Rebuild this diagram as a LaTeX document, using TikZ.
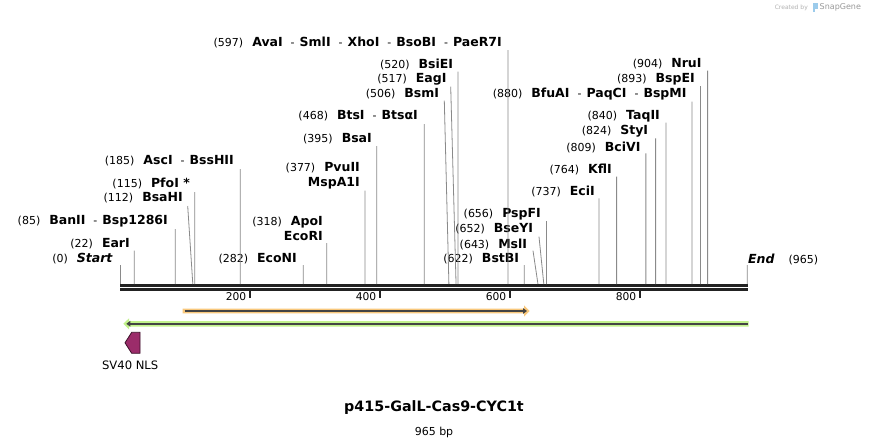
\documentclass[tikz,border=0pt]{standalone}
\usepackage{fontspec}
\setmainfont{DejaVu Sans}[ItalicFont={* Oblique}, BoldItalicFont={* Bold Oblique}]
\usepackage{tikz}
\usetikzlibrary{calc}
\usetikzlibrary{arrows.meta}

\definecolor{cutgray}{HTML}{8A8A8A}
\definecolor{bbdark}{HTML}{222222}
\definecolor{orafill}{HTML}{F9C87C}
\definecolor{grnfill}{HTML}{C2F28C}
\definecolor{featline}{HTML}{444444}
\definecolor{nlsfill}{HTML}{9B2C6A}
\definecolor{nlsdraw}{HTML}{3C1229}
\definecolor{sgblue}{HTML}{9CCBEB}

\newcommand{\bpos}[1]{{\fontsize{11}{15}\selectfont\mdseries(#1)}\hspace{9pt}}
\newcommand{\esep}{\hspace{8pt}{\fontsize{11}{15}\selectfont\mdseries -}\hspace{5pt}}

\begin{document}
\begin{tikzpicture} [
    x=1pt, y=-1pt,                 % pixel grid, y going down
    ]
% -------------------------------------------------
\tikzset{
  lab/.style={inner sep=0pt, anchor=east, align=right, font=\fontsize{12.5}{15}\selectfont\bfseries},
  cut/.style={draw=cutgray, line width=0.8pt},
  bbone/.style={draw=bbdark, line width=2.6pt},
  tickmark/.style={draw=bbdark, line width=1.6pt},
  ticklab/.style={inner sep=0pt, anchor=east, font=\fontsize{10.7}{12}\selectfont},
  featarrow/.style={draw=featline, line width=1.4pt, -{Triangle[length=4pt, width=5.5pt]}},
}
\useasboundingbox [fill=white] (0,0) rectangle (869,447);

    % backbone
    \coordinate (b0) at (120,285.3);
    \coordinate (b1) at (748,285.3);
    \coordinate (c0) at (120,289.5);
    \coordinate (c1) at (748,289.5);
    \path [bbone] (b0) -- (b1);
    \path [bbone] (c0) -- (c1);

    % sites on the backbone
    \foreach \p in {0,22,85,112,115,185,282,318,377,395,468,506,517,520,597,622,643,652,656,737,764,809,824,840,880,893,904,965}
      \coordinate (s\p) at (120+0.65*\p, 284);

    % ticks
    \foreach \t in {200,400,600,800} {
      \coordinate (k\t) at (120+0.65*\t, 290.7);
      \coordinate (m\t) at (120+0.65*\t, 297.5);
      \path [tickmark] (k\t) -- (m\t);
      \node [ticklab] (n\t) at (116.5+0.65*\t, 297) {\t};
    }

    % labels, left half
    \node [lab] (l0) at (113,259) {\bpos{0}\textit{Start}};
    \coordinate (t0) at (120,265);
    \node [lab] (l22) at (130,244) {\bpos{22}EarI};
    \coordinate (t22) at (134.3,250.7);
    \node [lab] (l85) at (168,221) {\bpos{85}BanII\esep Bsp1286I};
    \coordinate (t85) at (175.25,229);
    \node [lab] (l112) at (183,198) {\bpos{112}BsaHI};
    \coordinate (t112) at (187.7,206);
    \node [lab] (l115) at (190,183) {\bpos{115}PfoI *};
    \coordinate (t115) at (194.75,192);
    \node [lab] (l185) at (234,161) {\bpos{185}AscI\esep BssHII};
    \coordinate (t185) at (240.25,169);
    \node [lab] (l282) at (297,259) {\bpos{282}EcoNI};
    \coordinate (t282) at (303.3,265);
    \node [lab] (l318) at (323,228.5) {\bpos{318}ApoI\\EcoRI};
    \coordinate (t318) at (326.7,243);
    \node [lab] (l377) at (360,176) {\bpos{377}PvuII\\MspA1I};
    \coordinate (t377) at (365.05,190.7);
    \node [lab] (l395) at (372,139) {\bpos{395}BsaI};
    \coordinate (t395) at (376.75,146);
    \node [lab] (l468) at (418,116) {\bpos{468}BtsI\esep BtsαI};
    \coordinate (t468) at (424.2,124);
    \node [lab] (l506) at (439.3,94) {\bpos{506}BsmI};
    \coordinate (t506) at (444.3,100.7);
    \node [lab] (l517) at (446.7,79) {\bpos{517}EagI};
    \coordinate (t517) at (450.7,86.7);
    \node [lab] (l520) at (453.3,64) {\bpos{520}BsiEI};
    \coordinate (t520) at (458,71.7);
    \node [lab] (l597) at (502,42) {\bpos{597}AvaI\esep SmlI\esep XhoI\esep BsoBI\esep PaeR7I};
    \coordinate (t597) at (508.05,50);

    % labels, right half
    \node [lab] (l622) at (519.3,259) {\bpos{622}BstBI};
    \coordinate (t622) at (524.3,265);
    \node [lab] (l643) at (527.3,244) {\bpos{643}MslI};
    \coordinate (t643) at (533,250.7);
    \node [lab] (l652) at (533.3,229) {\bpos{652}BseYI};
    \coordinate (t652) at (539,236.7);
    \node [lab] (l656) at (541,214) {\bpos{656}PspFI};
    \coordinate (t656) at (546.4,221);
    \node [lab] (l737) at (595,191) {\bpos{737}EciI};
    \coordinate (t737) at (599.05,198.3);
    \node [lab] (l764) at (612,169) {\bpos{764}KflI};
    \coordinate (t764) at (616.6,176.7);
    \node [lab] (l809) at (640.7,147) {\bpos{809}BciVI};
    \coordinate (t809) at (645.85,153.3);
    \node [lab] (l824) at (648.3,131) {\bpos{824}StyI};
    \coordinate (t824) at (655.6,138.3);
    \node [lab] (l840) at (660,116) {\bpos{840}TaqII};
    \coordinate (t840) at (666,122.7);
    \node [lab] (l880) at (686.7,94) {\bpos{880}BfuAI\esep PaqCI\esep BspMI};
    \coordinate (t880) at (692,101.7);
    \node [lab] (l893) at (695,79) {\bpos{893}BspEI};
    \coordinate (t893) at (700.45,86);
    \node [lab] (l904) at (701.7,64) {\bpos{904}NruI};
    \coordinate (t904) at (707.6,70.7);
    \node [lab, anchor=west] (l965) at (748,259) {\textit{End}\hspace{14pt}{\fontsize{11}{15}\selectfont\mdseries(965)}};
    \coordinate (t965) at (747.25,265);

    % cut lines
    \foreach \p in {0,22,85,112,115,185,282,318,377,395,468,506,517,520,597,622,643,652,656,737,764,809,824,840,880,893,904,965}
      \path [cut] (t\p) -- (s\p);

    % features
    \fill [orafill] (182.7,308.7) -- (524,308.7) -- (524,305.3) -- (529.5,311) -- (524,316.7) -- (524,313.3) -- (182.7,313.3) -- cycle;
    \coordinate (o0) at (184.5,311);
    \coordinate (o1) at (527,311);
    \path [featarrow] (o0) -- (o1);

    \fill [grnfill] (748.7,321) -- (129,321) -- (129,318.3) -- (123.3,323.8) -- (129,329.3) -- (129,326.7) -- (748.7,326.7) -- cycle;
    \coordinate (g0) at (747.5,323.8);
    \coordinate (g1) at (126.3,323.8);
    \path [featarrow] (g0) -- (g1);

    \filldraw [fill=nlsfill, draw=nlsdraw, line width=0.8pt] (125,342.8) -- (131.7,332.3) -- (140,332.3) -- (140,353.3) -- (131.7,353.3) -- cycle;
    \node [font=\fontsize{11.6}{13}\selectfont, inner sep=0pt] (nls) at (130.2,365) {SV40 NLS};

    % title
    \node [font=\fontsize{14.3}{16}\selectfont\bfseries, inner sep=0pt] (title) at (434,408) {p415-GalL-Cas9-CYC1t};
    \node [font=\fontsize{11}{12}\selectfont, inner sep=0pt] (size) at (434,432) {965 bp};

    % credit
    \node [font=\fontsize{6}{7}\selectfont, text=black!30, inner sep=0pt, anchor=east] (cred) at (808,7.5) {Created by};
    \fill [sgblue] (812.5,3) rectangle (817.5,8.5);
    \fill [sgblue] (812.5,3) rectangle (814.5,12);
    \node [font=\fontsize{8}{9}\selectfont, text=black!40, inner sep=0pt, anchor=west] (sg) at (819.5,7.5) {SnapGene};
\end{tikzpicture}
\end{document}
